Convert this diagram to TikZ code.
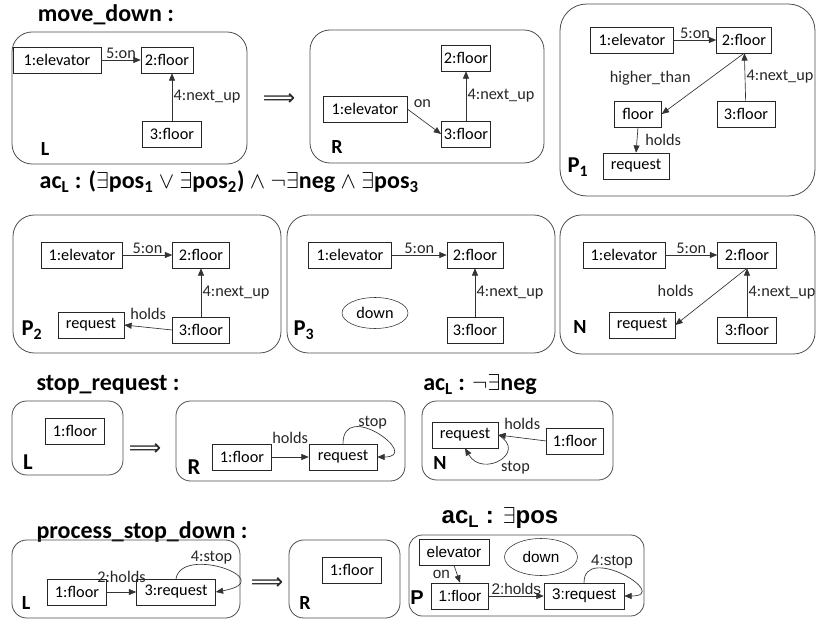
\documentclass[tikz,border=0pt]{standalone}
\usepackage{fontspec}
\setmainfont{Carlito}
\newfontfamily\arialfont{Liberation Sans}
\newfontfamily\arrowfont{DejaVu Sans}
\usetikzlibrary{arrows.meta,positioning,shapes.geometric}

\begin{document}
\begin{tikzpicture}[x=0.75pt,y=-0.75pt,
    font=\fontsize{12.2}{14}\selectfont,
    panel/.style={draw=black!70, line width=0.6pt, rounded corners=15pt},
    title/.style={font=\fontsize{18}{20}\selectfont\bfseries},
    tag/.style={font=\fontsize{15}{17}\selectfont\bfseries},
    implies/.style={font=\arrowfont\fontsize{17}{17}\selectfont, text=black!85},
    wd/.style={minimum width=#1*0.75pt}]
  \useasboundingbox (0,0) rectangle (817,623);

  % move_down
  \node[title] (T1) at (106,15) {move\_down :};
  \node[title, anchor=west] (T2) at (35,182) {ac\textsubscript{L} : ($\exists$pos\textsubscript{1} $\vee$ $\exists$pos\textsubscript{2}) $\wedge$ $\neg\exists$neg $\wedge$ $\exists$pos\textsubscript{3}};
  \draw[panel] (12,32) rectangle (247,164);
  \draw[panel] (310,30) rectangle (544,163);
  \draw[panel, rounded corners=20pt] (560,4) rectangle (815,196);
  \draw[panel, rounded corners=16pt] (13,215) rectangle (281,353);
  \draw[panel, rounded corners=16pt] (287,215) rectangle (555,353);
  \draw[panel, rounded corners=16pt] (560,215) rectangle (815,354);
  \node[implies] (I1) at (279,100) {⟹};
  \node[tag] (L1) at (45,149) {L};
  \node[tag] (R1) at (337,147) {R};
  \node[tag, font=\fontsize{17}{19}\selectfont\bfseries] (P1) at (578,167) {P\textsubscript{1}};
  \node[tag, font=\fontsize{17}{19}\selectfont\bfseries] (P2) at (32,330) {P\textsubscript{2}};
  \node[tag, font=\fontsize{17}{19}\selectfont\bfseries] (P3) at (304,330) {P\textsubscript{3}};
  \node[tag] (N1) at (580,327) {N};

  \begin{scope}[every node/.style={draw=black!85, rectangle, minimum height=19.5pt, inner sep=2pt}]
    \node (A1) [wd=88] at (57,60) {1:elevator};
    \node (A2) [wd=52] at (167,60) {2:floor};
    \node (A3) [wd=59] at (172,134) {3:floor};
    \node (B1) [wd=84] at (365,109) {1:elevator};
    \node (B2) [wd=49] at (466,58) {2:floor};
    \node (B3) [wd=49] at (466,134) {3:floor};
    \node (C1) [wd=83] at (632,40) {1:elevator};
    \node (C2) [wd=55] at (744,40) {2:floor};
    \node (C3) [wd=58] at (746,114) {3:floor};
    \node (C4) [wd=47] at (638,114) {floor};
    \node (C5) [wd=66] at (636,166) {request};
    \node (D1) [wd=81] at (82,255) {1:elevator};
    \node (D2) [wd=57] at (201,255) {2:floor};
    \node (D3) [wd=57] at (201,330) {3:floor};
    \node (D4) [wd=66] at (91,325) {request};
    \node (E1) [wd=83] at (350,255) {1:elevator};
    \node (E2) [wd=56] at (475,255) {2:floor};
    \node (E3) [wd=56] at (475,330) {3:floor};
    \node (E4) [ellipse, wd=66, minimum height=31*0.75pt] at (375,313) {down};
    \node (F1) [wd=82] at (624,255) {1:elevator};
    \node (F2) [wd=59] at (747,255) {2:floor};
    \node (F3) [wd=59] at (747,330) {3:floor};
    \node (F4) [wd=66] at (642,325) {request};
  \end{scope}

  \begin{scope}[every edge/.style={draw=black!80, line width=0.5pt, -{Triangle[length=5.5pt,width=4.5pt]}},
      every node/.style={inner sep=1pt, text=black!85}]
    \path (A1) edge node[above] {5:on} (A2);
    \path (A3.north) edge node[right] {4:next\_up} (A3.north |- A2.south);
    \path (B1.east) edge node[pos=.45, above=8pt] {on} (B3.west);
    \path (B3) edge node[right] {4:next\_up} (B2);
    \path (C1) edge node[above] {5:on} (C2);
    \path (C3) edge node[right] {4:next\_up} (C2);
    \path (C2.south) edge node[left=8pt, yshift=4pt] {higher\_than} (C4.east);
    \path (C4.south) edge node[right=5pt] {holds} (C5.north);
    \path (D1) edge node[above] {5:on} (D2);
    \path (D3) edge node[right] {4:next\_up} (D2);
    \path (D3.west) edge node[above=5pt] {holds} (D4.east);
    \path (E1) edge node[above] {5:on} (E2);
    \path (E3) edge node[right] {4:next\_up} (E2);
    \path (F1) edge node[above] {5:on} (F2);
    \path (F3) edge node[right] {4:next\_up} (F2);
    \path (F2.south) edge node[left=12pt, yshift=4pt] {holds} (F4.east);
  \end{scope}

  % stop_request
  \node[title] (T3) at (108,385) {stop\_request :};
  \node[title] (T4) at (480,385) {ac\textsubscript{L} : $\neg\exists$neg};
  \draw[panel, rounded corners=11pt] (12,401) rectangle (123,475);
  \draw[panel, rounded corners=11pt] (176,401) rectangle (405,481);
  \draw[panel, rounded corners=11pt] (422,401) rectangle (613,480);
  \node[implies] (I2) at (145,450) {⟹};
  \node[tag, font=\fontsize{17}{19}\selectfont\bfseries] (L2) at (28,462) {L};
  \node[tag, font=\fontsize{17}{19}\selectfont\bfseries] (R2) at (194,467) {R};
  \node[tag] (N2) at (440,463) {N};

  \begin{scope}[every node/.style={draw=black!85, rectangle, minimum height=19.5pt, inner sep=2pt}]
    \node (G1) [wd=59] at (75,431) {1:floor};
    \node (H1) [wd=59] at (242,457) {1:floor};
    \node (H2) [wd=68] at (343,457) {request};
    \node (K1) [wd=66] at (465,435) {request};
    \node (K2) [wd=57] at (575,441) {1:floor};
  \end{scope}

  \begin{scope}[every edge/.style={draw=black!80, line width=0.5pt, -{Triangle[length=5.5pt,width=4.5pt]}},
      every node/.style={inner sep=1pt, text=black!85}]
    \path (H1) edge node[above=9pt] {holds} (H2);
    \path (H2.north) edge[out=90, in=0, out distance=34pt, in distance=34pt] node[pos=.45, above] {stop} (H2.east);
    \path (K2.west) edge node[above=5pt] {holds} (K1.east);
    \path (K1.east) edge[out=-30, in=-60, looseness=2.5] node[below right] {stop} (K1.south);
  \end{scope}

  % process_stop_down
  \node[title] (T5) at (142,532) {process\_stop\_down :};
  \node[title, font=\arialfont\fontsize{18}{20}\selectfont\bfseries] (T6) at (500,518) {ac\textsubscript{L} : $\exists$pos};
  \draw[panel, rounded corners=11pt] (12,540) rectangle (240,618);
  \draw[panel, rounded corners=11pt] (289,540) rectangle (400,618);
  \draw[panel, rounded corners=10pt] (409,535) rectangle (644,616);
  \node[implies] (I3) at (267,584) {⟹};
  \node[tag] (L3) at (26,603) {L};
  \node[tag] (R3) at (305,603) {R};
  \node[tag, font=\arialfont\fontsize{15}{17}\selectfont\bfseries] (P4) at (417,598) {P};

  \begin{scope}[every node/.style={draw=black!85, rectangle, minimum height=19.5pt, inner sep=2pt}]
    \node (J1) [wd=59] at (77,592) {1:floor};
    \node (J2) [wd=79] at (176,592) {3:request};
    \node (Q1) [wd=59] at (352,570) {1:floor};
  \end{scope}
  \begin{scope}[font=\arialfont\fontsize{11.5}{13}\selectfont,
      every node/.style={draw=black!85, rectangle, minimum height=19.5pt, inner sep=2pt}]
    \node (M1) [wd=70] at (454,552) {elevator};
    \node (M2) [ellipse, wd=73, minimum height=37*0.75pt] at (541,557) {down};
    \node (M3) [wd=57] at (460,596) {1:floor};
    \node (M4) [wd=80] at (584,596) {3:request};
  \end{scope}

  \begin{scope}[every edge/.style={draw=black!80, line width=0.5pt, -{Triangle[length=5.5pt,width=4.5pt]}},
      every node/.style={inner sep=1pt, text=black!85}]
    \path (J1) edge node[above=6pt] {2:holds} (J2);
    \path (J2.north) edge[out=80, in=10, out distance=26pt, in distance=50pt] node[pos=.4, above] {4:stop} (J2.east);
  \end{scope}
  \begin{scope}[font=\arialfont\fontsize{11.5}{13}\selectfont,
      every edge/.style={draw=black!80, line width=0.5pt, -{Triangle[length=5.5pt,width=4.5pt]}},
      every node/.style={inner sep=1pt, text=black!85}]
    \path (M1.south) edge node[left=4pt] {on} (M3.north);
    \path (M3) edge node[above] {2:holds} (M4);
    \path (M4.north) edge[out=90, in=0, out distance=30pt, in distance=36pt] node[pos=.4, above] {4:stop} (M4.east);
  \end{scope}
\end{tikzpicture}
\end{document}
